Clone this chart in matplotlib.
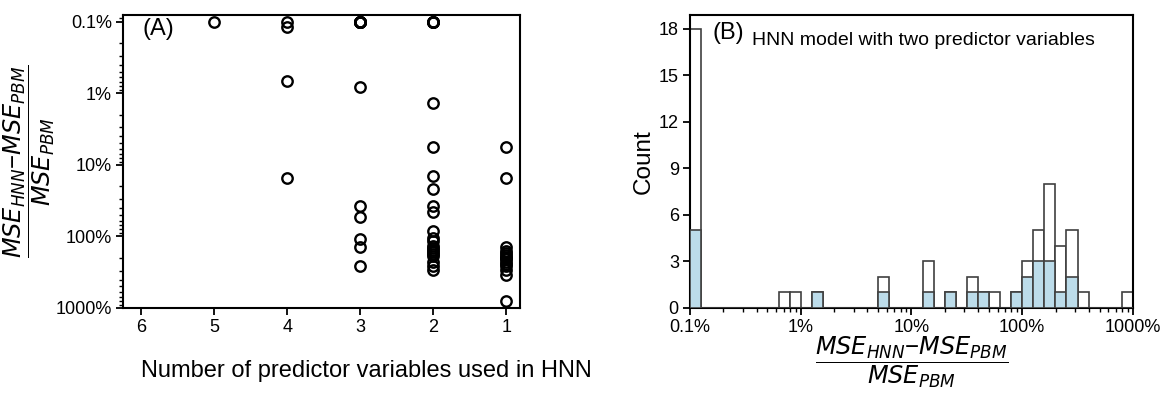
import numpy as np
import matplotlib
matplotlib.use("Agg")
import matplotlib.pyplot as plt
from matplotlib.ticker import LogLocator, NullFormatter

plt.rcParams['font.family'] = ['Liberation Sans', 'DejaVu Sans']
plt.rcParams['mathtext.fontset'] = 'dejavusans'

# Relative MSE increase (%) of HNN vs PBM, grouped by number of predictor variables
n_predictors = [5, 4, 3, 2, 1]
vals_5 = [0.1]
vals_4 = [0.1, 0.118, 0.67, 15.3]
vals_3 = [0.1] * 10 + [0.82, 38, 53, 108, 142, 261]
vals_2 = [0.1] * 5 + [1.37, 5.6, 14.5, 21.5, 38, 45, 83, 105, 115, 135, 145,
                      155, 165, 175, 190, 225, 260, 290]
vals_1 = [5.6, 15.3, 140, 162, 172, 182, 192, 198, 210, 230, 245, 262, 290,
          341, 803]
groups = [vals_5, vals_4, vals_3, vals_2, vals_1]

y_ticks = [0.1, 1, 10, 100, 1000]
y_ticklabels = ['0.1%', '1%', '10%', '100%', '1000%']
x_ticks = [6, 5, 4, 3, 2, 1]
count_ticks = [0, 3, 6, 9, 12, 15, 18]

frac = r'$\dfrac{MSE_{HNN}\mathregular{-}MSE_{PBM}}{MSE_{PBM}}$'

fig = plt.figure(figsize=(11.75, 3.93), dpi=100)
axA = fig.add_axes([0.1047, 0.2163, 0.338, 0.7455])
axB = fig.add_axes([0.5872, 0.2163, 0.377, 0.7455])

# ---- Panel A ----
for n, vals in zip(n_predictors, groups):
    axA.plot([n] * len(vals), vals, 'o', mfc='none', mec='black', ms=7.5,
             mew=1.7, ls='none')
axA.set_yscale('log')
axA.set_ylim(1000, 0.0807)
axA.set_xlim(6.25, 0.81)
axA.set_xticks(x_ticks)
axA.set_yticks(y_ticks)
axA.set_yticklabels(y_ticklabels)
axA.yaxis.set_minor_locator(LogLocator(base=10, subs=np.arange(2, 10)))
axA.yaxis.set_minor_formatter(NullFormatter())
axA.set_xlabel('Number of predictor variables used in HNN', fontsize=17)
axA.xaxis.set_label_coords(0.612, -0.178)
axA.xaxis.label.set_va('top')
axA.set_ylabel(frac, fontsize=17.3)
axA.yaxis.set_label_coords(-0.165, 0.5)
axA.text(0.048, 0.99, '(A)', transform=axA.transAxes, fontsize=17,
         va='top', ha='left')

# ---- Panel B ----
all_vals = np.concatenate([np.array(g, dtype=float) for g in groups])
two_vals = np.array(vals_2, dtype=float)
bins = np.logspace(-1, 3, 41)
axB.hist(all_vals, bins=bins, color='white', edgecolor='#404040', lw=1.2,
         zorder=2)
axB.hist(two_vals, bins=bins, color='#bcdcea', edgecolor='#404040', lw=1.2,
         zorder=3)
axB.set_xscale('log')
axB.set_xlim(0.1, 1000)
axB.set_ylim(0, 18.9)
axB.set_xticks(y_ticks)
axB.set_xticklabels(y_ticklabels)
axB.xaxis.set_minor_locator(LogLocator(base=10, subs=np.arange(2, 10)))
axB.xaxis.set_minor_formatter(NullFormatter())
axB.set_yticks(count_ticks)
axB.set_ylabel('Count', fontsize=17.5)
axB.yaxis.set_label_coords(-0.08, 0.5)
axB.set_xlabel(frac, fontsize=17.3)
axB.xaxis.set_label_coords(0.5, -0.09)
axB.xaxis.label.set_va('top')
axB.text(0.05, 0.976, '(B)', transform=axB.transAxes, fontsize=17,
         va='top', ha='left')
axB.text(0.14, 0.898, 'HNN model with two predictor variables',
         transform=axB.transAxes, fontsize=14, va='baseline', ha='left')

for ax in (axA, axB):
    for sp in ax.spines.values():
        sp.set_linewidth(1.5)
    ax.tick_params(which='major', direction='out', length=5, width=1.3,
                   labelsize=13, pad=3)
    ax.tick_params(which='minor', direction='out', length=3, width=1.0)

fig.savefig('out.png', dpi=100)
